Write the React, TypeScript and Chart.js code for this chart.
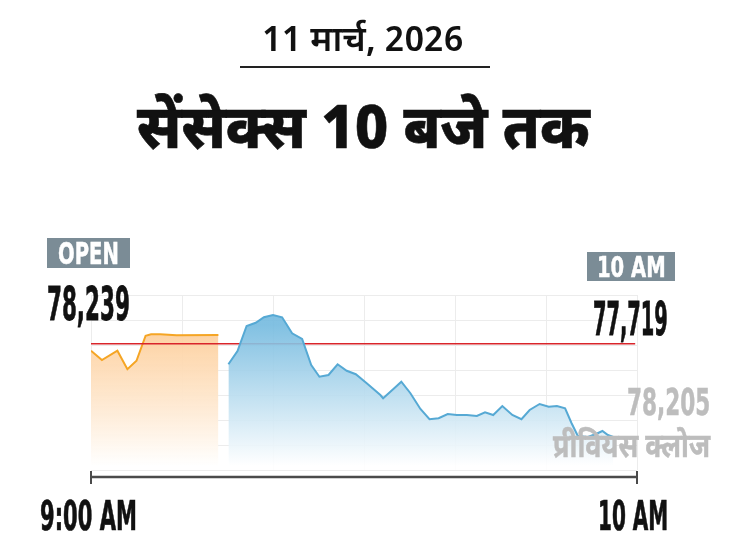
import React, { useEffect, useLayoutEffect, useRef } from "react";
import { Chart, registerables } from "chart.js";

Chart.register(...registerables);

// minutes after 9:00 AM
const openMinutes = [0, 1.2, 2.9, 4.0, 5.0, 6.0, 6.6, 7.6, 9.4, 14.0];
const openValues = [78177, 78140, 78177, 78103, 78137, 78237, 78243, 78243, 78239, 78240];

const laterMinutes = [
  15.1, 16.1, 17.1, 18.1, 19.0, 20.0, 21.0, 22.1, 23.2, 24.2, 25.1, 26.1, 27.1, 28.1, 29.1, 30.3,
  31.8, 32.1, 33.2, 34.1, 35.1, 36.2, 37.2, 38.2, 39.2, 40.2, 41.3, 42.4, 43.3, 44.2, 45.2, 46.3,
  47.3, 48.2, 49.3, 50.3, 51.2, 52.1, 52.8, 53.5, 54.6, 55.5, 56.2, 56.8, 57.4,
];
const laterValues = [
  78123, 78176, 78276, 78289, 78311, 78320, 78311, 78247, 78224, 78120, 78073, 78080, 78123, 78097,
  78083, 78047, 78000, 77987, 78023, 78053, 78007, 77944, 77903, 77907, 77924, 77920, 77920, 77916,
  77931, 77920, 77956, 77920, 77903, 77940, 77964, 77953, 77956, 77947, 77888, 77836, 77832, 77844,
  77856, 77840, 77832,
];

const referenceValue = 78205;
const xRange = [0, 60];
const yRange = [77700, 78400];

const dateText = "11 मार्च, 2026";
const titleText = "सेंसेक्स 10 बजे तक";
const openLabel = "OPEN";
const openValueLabel = "78,239";
const endLabel = "10 AM";
const endValueLabel = "77,719";
const prevCloseValueLabel = "78,205";
const prevCloseLabel = "प्रीवियस क्लोज";
const startTick = "9:00 AM";
const endTick = "10 AM";

const DEVA = '"Noto Sans Devanagari", "Noto Sans", "Lato", sans-serif';
const COND = '"Liberation Sans Narrow", "DejaVu Sans Condensed", "Roboto", sans-serif';

function gradient(ctx: CanvasRenderingContext2D, area: any, top: string, bottom: string) {
  const g = ctx.createLinearGradient(0, area.top + 30, 0, area.bottom - 4);
  g.addColorStop(0, top);
  g.addColorStop(1, bottom);
  return g;
}

const axisLinePlugin = {
  id: "axisLine",
  afterDraw(chart: any) {
    const { ctx, scales, chartArea } = chart;
    const x0 = scales.x.getPixelForValue(xRange[0]);
    const x1 = scales.x.getPixelForValue(xRange[1]);
    const y = chartArea.bottom + 7;
    ctx.save();
    ctx.strokeStyle = "#4a4a4a";
    ctx.lineWidth = 2.5;
    ctx.beginPath();
    ctx.moveTo(x0, y);
    ctx.lineTo(x1, y);
    ctx.stroke();
    ctx.lineWidth = 2;
    ctx.beginPath();
    ctx.moveTo(x0, y - 6);
    ctx.lineTo(x0, y + 7);
    ctx.moveTo(x1, y - 6);
    ctx.lineTo(x1, y + 7);
    ctx.stroke();
    ctx.restore();
  },
};

function Fit(props: { left: number; top: number; width: number; style: React.CSSProperties; children: React.ReactNode }) {
  const r = useRef<HTMLDivElement | null>(null);
  useLayoutEffect(() => {
    const el = r.current;
    if (!el) return;
    const w = el.offsetWidth;
    if (w > 0) el.style.transform = `scaleX(${props.width / w})`;
  });
  return (
    <div
      ref={r}
      style={{
        position: "absolute",
        left: props.left,
        top: props.top,
        whiteSpace: "nowrap",
        transformOrigin: "left top",
        ...props.style,
      }}
    >
      {props.children}
    </div>
  );
}

export default function App() {
  const ref = useRef<HTMLCanvasElement | null>(null);

  useEffect(() => {
    if (!ref.current) return;
    const chart = new Chart(ref.current, {
      type: "line",
      data: {
        datasets: [
          {
            data: laterMinutes.map((m, i) => ({ x: m, y: laterValues[i] })),
            borderColor: "#56a9d4",
            borderWidth: 2,
            pointRadius: 0,
            tension: 0,
            fill: "start",
            order: 1,
            backgroundColor: (c: any) => {
              const a = c.chart.chartArea;
              if (!a) return "rgba(120,190,225,0.8)";
              return gradient(c.chart.ctx, a, "rgba(116,186,223,0.9)", "rgba(255,255,255,0.9)");
            },
          },
          {
            data: [
              { x: xRange[0], y: referenceValue },
              { x: xRange[1] - 0.2, y: referenceValue },
            ],
            borderColor: "#d9252b",
            borderWidth: 1.3,
            pointRadius: 0,
            fill: false,
            order: 2,
          },
          {
            data: openMinutes.map((m, i) => ({ x: m, y: openValues[i] })),
            borderColor: "#f5a524",
            borderWidth: 2,
            pointRadius: 0,
            tension: 0,
            fill: "start",
            order: 3,
            backgroundColor: (c: any) => {
              const a = c.chart.chartArea;
              if (!a) return "rgba(253,200,140,0.8)";
              return gradient(c.chart.ctx, a, "rgba(253,204,150,0.92)", "rgba(255,255,255,1)");
            },
          },
        ],
      },
      options: {
        animation: false,
        responsive: false,
        maintainAspectRatio: false,
        events: [],
        layout: { padding: { left: 91, right: 93, top: 295, bottom: 78 } },
        plugins: { legend: { display: false }, tooltip: { enabled: false } },
        scales: {
          x: {
            type: "linear",
            min: xRange[0],
            max: xRange[1],
            ticks: { display: false, stepSize: 10 },
            grid: { color: "#ececec", lineWidth: 1, drawTicks: false },
            border: { display: false },
          },
          y: {
            type: "linear",
            min: yRange[0],
            max: yRange[1],
            ticks: { display: false, stepSize: 100 },
            grid: { color: "#ececec", lineWidth: 1, drawTicks: false },
            border: { display: false },
          },
        },
      },
      plugins: [axisLinePlugin],
    });
    return () => chart.destroy();
  }, []);

  const cond = (fs: number, color: string, stroke = 0): React.CSSProperties => ({
    fontFamily: COND,
    fontWeight: 700,
    fontSize: fs,
    lineHeight: 1,
    color,
    WebkitTextStroke: stroke ? `${stroke}px ${color}` : undefined,
  });

  return (
    <div style={{ position: "absolute", left: 0, top: 0, width: 730, height: 548, background: "#fff", overflow: "hidden" }}>
      <canvas ref={ref} width={730} height={548} style={{ position: "absolute", left: 0, top: 0, width: 730, height: 548 }} />

      <Fit left={262} top={21} width={201} style={{ fontFamily: DEVA, fontWeight: 600, fontSize: 35, lineHeight: "44px", color: "#111" }}>
        {dateText}
      </Fit>
      <div style={{ position: "absolute", left: 240, top: 66, width: 250, height: 1.5, background: "#222" }} />
      <Fit left={137} top={95} width={453} style={{ fontFamily: DEVA, fontWeight: 800, fontSize: 61, lineHeight: "76px", color: "#111", WebkitTextStroke: "0.6px #111" }}>
        {titleText}
      </Fit>

      <div style={{ position: "absolute", left: 47, top: 238, width: 83, height: 30, background: "#7b8c96" }} />
      <Fit left={58} top={239} width={61} style={cond(30, "#fff", 0.5)}>{openLabel}</Fit>
      <Fit left={47} top={281} width={83} style={cond(46, "#111", 0.8)}>{openValueLabel}</Fit>

      <div style={{ position: "absolute", left: 587, top: 252, width: 88, height: 29, background: "#7b8c96" }} />
      <Fit left={597} top={253} width={69} style={cond(29, "#fff", 0.5)}>{endLabel}</Fit>
      <Fit left={593} top={296} width={75} style={cond(46, "#111", 0.8)}>{endValueLabel}</Fit>

      <Fit left={627} top={384} width={83} style={cond(37, "#bdbdbd", 0.5)}>{prevCloseValueLabel}</Fit>
      <Fit left={553} top={427} width={157} style={{ fontFamily: DEVA, fontWeight: 700, fontSize: 33, lineHeight: "44px", color: "#bdbdbd", WebkitTextStroke: "0.5px #bdbdbd" }}>
        {prevCloseLabel}
      </Fit>

      <Fit left={40} top={496} width={97} style={cond(41, "#111", 0.7)}>{startTick}</Fit>
      <Fit left={598} top={496} width={70} style={cond(41, "#111", 0.7)}>{endTick}</Fit>
    </div>
  );
}
